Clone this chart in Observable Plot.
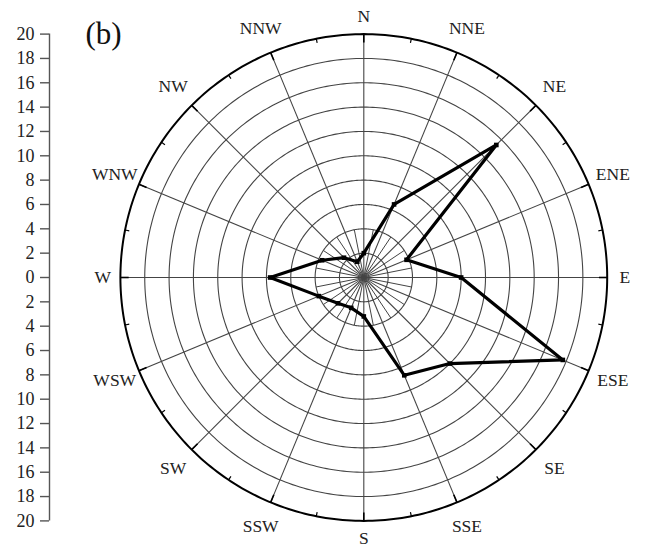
<!DOCTYPE html>
<html>
<head>
<meta charset="utf-8">
<script src="https://cdn.jsdelivr.net/npm/d3@7"></script>
<script src="https://cdn.jsdelivr.net/npm/@observablehq/plot@0.6"></script>
<style>
  body { margin: 0; background: #fff; }
  #chart svg { display: block; }
</style>
</head>
<body>
<div id="chart"></div>
<script>
// ---- data ----
const directions = ["N","NNE","NE","ENE","E","ESE","SE","SSE","S","SSW","SW","WSW","W","WNW","NW","NNW"];
const values     = [2.0, 6.5, 15.4, 3.8, 8.0, 17.7, 10.0, 8.7, 3.2, 2.7, 3.0, 4.0, 7.7, 3.7, 2.3, 1.4];
const ringValues = [2, 4, 6, 8, 10, 12, 14, 16, 18];
const outerValue = 20;
const axisTicks  = [-20,-18,-16,-14,-12,-10,-8,-6,-4,-2,0,2,4,6,8,10,12,14,16,18,20];
const panelLabel = "(b)";

// ---- helpers ----
const step = 360 / directions.length;
const rad = d => d * Math.PI / 180;
const px = (r, deg) => r * Math.sin(rad(deg));
const py = (r, deg) => r * Math.cos(rad(deg));

const circlePts = [];
for (const r of [...ringValues, outerValue]) {
  for (let a = 0; a <= 360; a += 1) circlePts.push({ring: r, x: px(r, a), y: py(r, a)});
}
const spokes = directions.map((d, i) => ({a: i * step}));
const halfSpokes = directions.map((d, i) => ({a: i * step + step / 2}));

const series = directions.map((d, i) => ({dir: d, v: values[i], a: i * step, cardinal: i % 4 === 0}));
const closed = [...series, series[0]];

const W = 647, H = 555, ML = 49;
const unit = 12.17;           // pixels per unit of the radial scale
const cx = 363.3, cy = 277;   // centre of rose in pixels
const xDomain = [(ML - cx) / unit, (W - cx) / unit];
const yDomain = [-(H - cy) / unit, cy / unit];
const labelR = d => d.cardinal ? 21.45 : 22.15;

const font = "'Liberation Serif', 'Times New Roman', serif";
const gridColor = "#444";

const chart = Plot.plot({
  width: W,
  height: H,
  marginLeft: ML,
  marginRight: 0,
  marginTop: 0,
  marginBottom: 0,
  style: {fontFamily: font, fontSize: "17px", background: "#fff", color: "#222"},
  x: {domain: xDomain, axis: null},
  y: {domain: yDomain, axis: null},
  marks: [
    // rings
    Plot.line(circlePts.filter(d => d.ring !== outerValue), {x: "x", y: "y", z: "ring", stroke: gridColor, strokeWidth: 1.1}),
    // spokes
    Plot.link(spokes, {x1: 0, y1: 0, x2: d => px(outerValue, d.a), y2: d => py(outerValue, d.a), stroke: gridColor, strokeWidth: 1.1}),
    Plot.link(halfSpokes, {x1: 0, y1: 0, x2: d => px(4, d.a), y2: d => py(4, d.a), stroke: gridColor, strokeWidth: 1}),
    // outer circle
    Plot.line(circlePts.filter(d => d.ring === outerValue), {x: "x", y: "y", stroke: "#000", strokeWidth: 2}),
    // ticks on outer circle
    Plot.link(spokes, {x1: d => px(outerValue, d.a), y1: d => py(outerValue, d.a), x2: d => px(outerValue - 0.68, d.a), y2: d => py(outerValue - 0.68, d.a), stroke: "#000", strokeWidth: 1.6}),
    Plot.link(halfSpokes, {x1: d => px(outerValue, d.a), y1: d => py(outerValue, d.a), x2: d => px(outerValue - 0.35, d.a), y2: d => py(outerValue - 0.35, d.a), stroke: "#000", strokeWidth: 1.2}),
    // direction labels
    Plot.text(series, {x: d => px(labelR(d), d.a), y: d => py(labelR(d), d.a), text: "dir", fill: "#222", fontSize: 17.5, textAnchor: "middle", lineAnchor: "middle"}),
    // data polygon
    Plot.line(closed, {x: d => px(d.v, d.a), y: d => py(d.v, d.a), stroke: "#000", strokeWidth: 3.2, strokeLinejoin: "miter"}),
    Plot.dot(series, {x: d => px(d.v, d.a), y: d => py(d.v, d.a), symbol: "square", r: 2.6, fill: "#000", stroke: "none"}),
    // left radial axis
    Plot.ruleX([xDomain[0]], {y1: -outerValue, y2: outerValue, stroke: "#555", strokeWidth: 1.4}),
    Plot.axisY(axisTicks, {anchor: "left", label: null, tickFormat: d => String(Math.abs(d)), tickSize: 9, tickPadding: 6, stroke: "#555", fill: "#222", fontSize: 18, strokeWidth: 1.4}),
    // panel label
    Plot.text([panelLabel], {frameAnchor: "top-left", dx: 36, dy: 34, fontSize: 31, textAnchor: "start", lineAnchor: "middle", fill: "#111"})
  ]
});
document.getElementById("chart").appendChild(chart);
</script>
</body>
</html>
